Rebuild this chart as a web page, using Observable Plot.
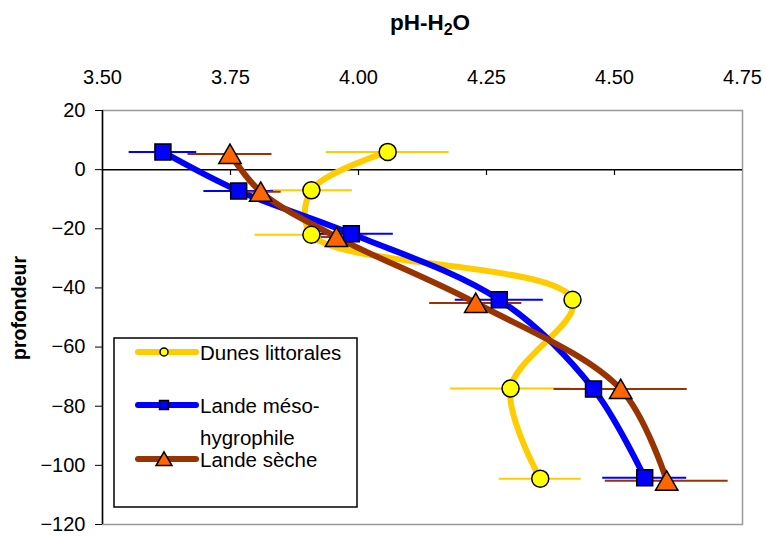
<!DOCTYPE html>
<html><head><meta charset="utf-8">
<script src="https://cdn.jsdelivr.net/npm/d3@7"></script>
<script src="https://cdn.jsdelivr.net/npm/@observablehq/plot@0.6"></script>
<style>body{margin:0;background:#fff;} #chart{position:relative;width:766px;height:536px;}</style>
</head><body><div id="chart"></div>
<script>
const seriesNames = ["Dunes littorales", "Lande méso-hygrophile", "Lande sèche"];
const depthDunes = [6, -7, -22, -44, -74, -104.5];
const phDunes    = [4.057, 3.908, 3.908, 4.418, 4.297, 4.355];
const errDunes   = [0.12, 0.08, 0.11, 0.015, 0.117, 0.08];
const depthMeso  = [6, -7.2, -21.7, -44, -74.2, -104.2];
const phMeso     = [3.618, 3.766, 3.986, 4.275, 4.459, 4.559];
const errMeso    = [0.066, 0.068, 0.082, 0.086, 0.076, 0.082];
const depthSeche = [5.3, -7.5, -22.8, -45.1, -74.2, -105.2];
const phSeche    = [3.749, 3.809, 3.957, 4.229, 4.512, 4.602];
const errSeche   = [0.082, 0.04, 0.03, 0.09, 0.13, 0.12];
const xTicks = [3.5, 3.75, 4, 4.25, 4.5, 4.75];
const yTicks = [20, 0, -20, -40, -60, -80, -100, -120];
const zeroTicks = [3.75, 4, 4.25, 4.5];

const lineColors = ["#FFCC00", "#0000FF", "#993300"];
const fillColors = ["#FFFF00", "#0000FF", "#FF6600"];

function rows(ph, depth, err) { return ph.map((p, i) => ({ph: p, depth: depth[i], err: err[i]})); }
const data = [rows(phDunes, depthDunes, errDunes), rows(phMeso, depthMeso, errMeso), rows(phSeche, depthSeche, errSeche)];

const marks = [
  Plot.frame({stroke: "#999", strokeWidth: 1.5}),
  Plot.ruleY([0], {stroke: "black", strokeWidth: 1.5}),
  Plot.ruleX(zeroTicks, {y1: 0, y2: -2, stroke: "black", strokeWidth: 1.2}),
  Plot.axisY(yTicks, {tickSize: 7, tickPadding: 10, label: null, stroke: "black", fontSize: 20}),
  Plot.axisX(xTicks, {anchor: "top", tickSize: 0, tickPadding: 27, label: null, fontSize: 20, tickFormat: d3.format(".2f")}),
  Plot.ruleX([3.5], {stroke: "black", strokeWidth: 1.5})
];
data.forEach((d, i) => {
  marks.push(Plot.ruleY(d, {y: "depth", x1: r => r.ph - r.err, x2: r => r.ph + r.err, stroke: lineColors[i], strokeWidth: 2}));
  marks.push(Plot.line(d, {x: "ph", y: "depth", stroke: lineColors[i], strokeWidth: 6, curve: "catmull-rom", strokeLinejoin: "round", strokeLinecap: "round"}));
});
marks.push(Plot.dot(data[0], {x: "ph", y: "depth", r: 8.5, symbol: "circle", fill: fillColors[0], stroke: "black", strokeWidth: 1.5}));
marks.push(Plot.dot(data[1], {x: "ph", y: "depth", r: 9, symbol: "square", fill: fillColors[1], stroke: "black", strokeWidth: 1.5}));
marks.push(Plot.dot(data[2], {x: "ph", y: "depth", r: 8.3, symbol: "triangle", dy: 3, fill: fillColors[2], stroke: "black", strokeWidth: 1.5}));

const chart = Plot.plot({
  width: 766, height: 536,
  marginLeft: 102, marginRight: 24, marginTop: 110, marginBottom: 12,
  x: {domain: [3.5, 4.75]},
  y: {domain: [-120, 20]},
  style: {fontFamily: "'Liberation Sans', Arial, sans-serif", fontSize: "20px", color: "black", background: "white"},
  marks
});
document.getElementById("chart").appendChild(chart);

const svg = d3.select(chart);
// title
const t = svg.append("text").attr("x", 430).attr("y", 30).attr("text-anchor", "middle")
  .attr("font-weight", "bold").attr("font-size", 22.5).attr("fill", "black");
t.append("tspan").text("pH-H");
t.append("tspan").attr("font-size", 16).attr("dy", 5).text("2");
t.append("tspan").attr("dy", -5).text("O");
// y label
svg.append("text").attr("transform", "translate(26,308) rotate(-90)").attr("text-anchor", "middle")
  .attr("font-weight", "bold").attr("font-size", 19.5).attr("fill", "black").text("profondeur");

// legend
const lg = svg.append("g").attr("text-anchor", "start");
lg.append("rect").attr("x", 114).attr("y", 338).attr("width", 243).attr("height", 169)
  .attr("fill", "white").attr("stroke", "black").attr("stroke-width", 1.5);
const rowsY = [352, 405, 459];
const labels = [["Dunes littorales"], ["Lande méso-", "hygrophile"], ["Lande sèche"]];
const symbols = [d3.symbolCircle, d3.symbolSquare, d3.symbolTriangle];
const symSizes = [50, 80, 110];
rowsY.forEach((yy, i) => {
  lg.append("line").attr("x1", 138).attr("x2", 196).attr("y1", yy).attr("y2", yy)
    .attr("stroke", lineColors[i]).attr("stroke-width", 6).attr("stroke-linecap", "round");
  lg.append("path").attr("d", d3.symbol(symbols[i], symSizes[i])())
    .attr("transform", `translate(164,${yy + (i === 2 ? 2 : 0)})`)
    .attr("fill", fillColors[i]).attr("stroke", "black").attr("stroke-width", 1.5);
  labels[i].forEach((s, j) => {
    lg.append("text").attr("x", 200).attr("y", yy + 8 + j * 32).attr("text-anchor", "start")
      .attr("font-size", 20.5).attr("fill", "black").text(s);
  });
});
</script>
</body></html>
